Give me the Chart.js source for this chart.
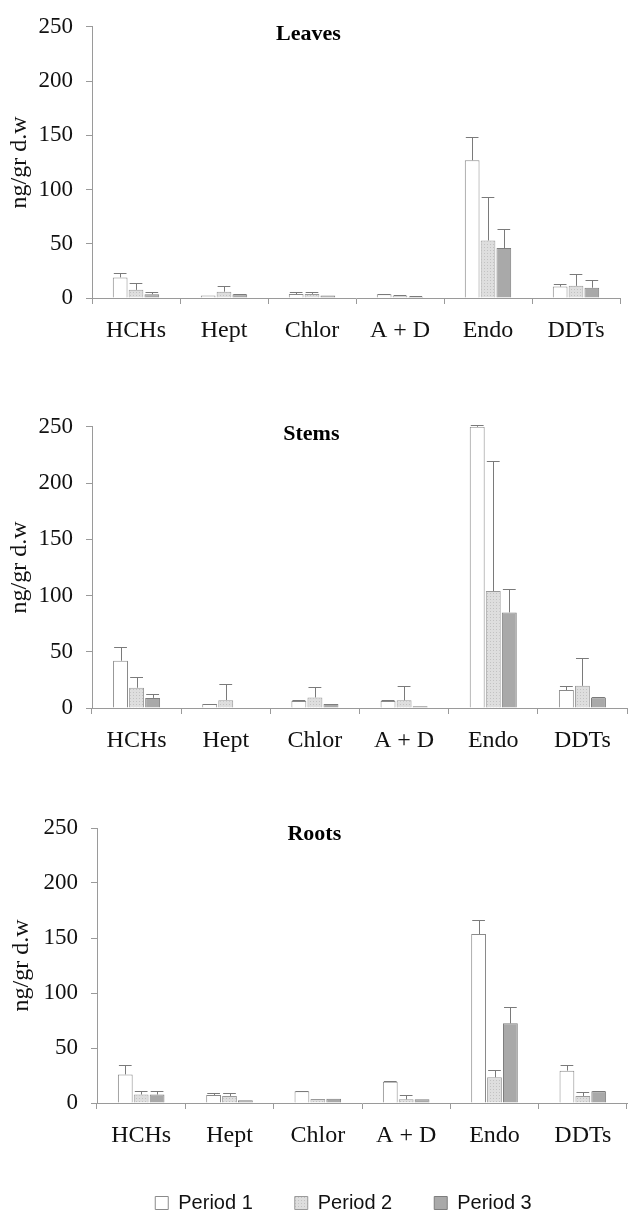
<!DOCTYPE html>
<html><head><meta charset="utf-8">
<script src="https://cdn.jsdelivr.net/npm/chart.js@4.4.1/dist/chart.umd.min.js"></script>
<style>
html,body{margin:0;padding:0;background:#fff;overflow:hidden;width:631px;height:1216px;}
.panel{position:absolute;left:0;width:631px;}
</style></head><body>
<div class="panel" style="top:0;height:345px"><canvas id="c1"></canvas></div>
<div class="panel" style="top:400px;height:355px"><canvas id="c2"></canvas></div>
<div class="panel" style="top:800px;height:423px"><canvas id="c3"></canvas></div>
<script>
const categories = ['HCHs', 'Hept', 'Chlor', 'A + D', 'Endo', 'DDTs'];
const seriesNames = ['Period 1', 'Period 2', 'Period 3'];
const yTicks = [0, 50, 100, 150, 200, 250];
const yTitle = 'ng/gr d.w';
const panelNames = ['Leaves', 'Stems', 'Roots'];

// Leaves
const leavesP1 = [19, 2.4, 3.6, 3.4, 127, 10.5];
const leavesP1Err = [4, 0, 2.2, 0.3, 21, 2.5];
const leavesP2 = [7.5, 5.8, 3.8, 2.1, 53, 11.2];
const leavesP2Err = [6.5, 5, 2, 0.4, 40, 11];
const leavesP3 = [3.5, 3.5, 2.3, 1, 46, 9.5];
const leavesP3Err = [2.3, 0.3, 0, 1, 18, 7];

// Stems
const stemsP1 = [42, 3.5, 6.2, 6.2, 250, 16];
const stemsP1Err = [12, 0.3, 0.8, 0.8, 2, 3.5];
const stemsP2 = [18, 7, 9.4, 6.8, 104, 19.7];
const stemsP2Err = [10, 14, 9, 12.6, 116, 25];
const stemsP3 = [9, 0, 3.5, 1.5, 85, 9.4];
const stemsP3Err = [3.3, 0, 0, 0, 21, 0.5];

// Roots
const rootsP1 = [26, 7.3, 10.6, 19.4, 153.6, 29.4];
const rootsP1Err = [9, 2, 0.4, 0.5, 13, 5.6];
const rootsP2 = [7.7, 6.4, 3.6, 3.3, 23.4, 6.4];
const rootsP2Err = [2.8, 3, 0, 3.7, 7, 3.3];
const rootsP3 = [7.7, 2.4, 3.8, 3.5, 72.4, 10.6];
const rootsP3Err = [2.8, 0, 0, 0, 15, 0.5];

function makeDots() {
  const c = document.createElement('canvas');
  c.width = 3; c.height = 3;
  const g = c.getContext('2d');
  g.fillStyle = '#dedede'; g.fillRect(0, 0, 3, 3);
  g.fillStyle = '#c2c2c2'; g.fillRect(1, 1, 1, 1);
  return g.createPattern(c, 'repeat');
}
const dotPattern = makeDots();

const fills = ['#ffffff', dotPattern, '#a9a9a9'];
const borders = ['#8a8a8a', '#9a9a9a', '#7e7e7e'];

const errorBars = {
  id: 'errorBars',
  afterDatasetsDraw(chart) {
    const ctx = chart.ctx, ys = chart.scales.y;
    chart.data.datasets.forEach((ds, i) => {
      const meta = chart.getDatasetMeta(i);
      meta.data.forEach((bar, j) => {
        const v = ds.data[j], e = ds.errors[j];
        if (!e || !v) return;
        const yT = Math.round(ys.getPixelForValue(v + e)) + 0.5;
        const xc = Math.round(bar.x) + 0.5;
        const half = bar.width * 0.43;
        ctx.save();
        ctx.strokeStyle = '#7a7a7a';
        ctx.lineWidth = 1;
        ctx.beginPath();
        ctx.moveTo(xc, bar.y);
        ctx.lineTo(xc, yT);
        ctx.moveTo(bar.x - half, yT);
        ctx.lineTo(bar.x + half, yT);
        ctx.stroke();
        ctx.restore();
      });
    });
  }
};

const panelTitle = {
  id: 'panelTitle',
  afterLayout(chart) {
    // let the y-axis box reach the canvas edge so its labels are not clipped
    chart.scales.y.left = 0;
  },
  afterDraw(chart, args, opts) {
    const ctx = chart.ctx, a = chart.chartArea;
    ctx.save();
    ctx.font = 'bold 22px "Liberation Serif"';
    ctx.fillStyle = '#000';
    ctx.textAlign = 'center';
    ctx.textBaseline = 'middle';
    ctx.fillText(opts.text, a.left + a.width * opts.xFrac, a.top + opts.dy);
    ctx.restore();
  }
};

function makeChart(id, name, series, errs, cfg) {
  const datasets = series.map((d, i) => ({
    label: seriesNames[i],
    data: d,
    errors: errs[i],
    backgroundColor: fills[i],
    borderColor: borders[i],
    borderWidth: 1,
    categoryPercentage: 0.54,
    barPercentage: 0.93
  }));
  return new Chart(document.getElementById(id), {
    type: 'bar',
    data: { labels: categories, datasets },
    plugins: [errorBars, panelTitle],
    options: {
      responsive: true,
      maintainAspectRatio: false,
      animation: false,
      devicePixelRatio: 1,
      layout: { padding: cfg.padding },
      plugins: {
        tooltip: { enabled: false },
        panelTitle: { text: name, xFrac: 0.41, dy: cfg.titleDy },
        legend: {
          display: !!cfg.legend,
          position: 'bottom',
          labels: {
            boxWidth: 13, boxHeight: 13, padding: 42,
            color: '#111',
            font: { family: 'Liberation Sans', size: 20 }
          }
        }
      },
      scales: {
        x: {
          grid: { display: true, drawOnChartArea: false, drawTicks: true, tickLength: 6, color: '#9a9a9a', offset: true },
          border: { display: true, color: '#9a9a9a' },
          ticks: { font: { family: 'Liberation Serif', size: 24 }, color: '#111', padding: 12, maxRotation: 0, autoSkip: false },
          afterFit(s) { s.height = cfg.xh; }
        },
        y: {
          min: yTicks[0], max: yTicks[yTicks.length - 1],
          ticks: { stepSize: yTicks[1] - yTicks[0], font: { family: 'Liberation Serif', size: 23 }, color: '#111', padding: 13 },
          grid: { drawOnChartArea: false, tickLength: 6, color: '#9a9a9a' },
          border: { display: true, color: '#9a9a9a' },
          title: { display: true, text: yTitle, color: '#111', font: { family: 'Liberation Serif', size: 24 }, padding: { top: cfg.titlePad, bottom: 0 } },
          afterFit(s) { s.width = cfg.yw; }
        }
      }
    }
  });
}

makeChart('c1', panelNames[0], [leavesP1, leavesP2, leavesP3], [leavesP1Err, leavesP2Err, leavesP3Err],
  { padding: { top: 24, left: 0, right: 11, bottom: 0 }, xh: 47, yw: 92, titlePad: 5, titleDy: 8 });
makeChart('c2', panelNames[1], [stemsP1, stemsP2, stemsP3], [stemsP1Err, stemsP2Err, stemsP3Err],
  { padding: { top: 25, left: 0, right: 4, bottom: 0 }, xh: 47, yw: 92, titlePad: 5, titleDy: 8 });
makeChart('c3', panelNames[2], [rootsP1, rootsP2, rootsP3], [rootsP1Err, rootsP2Err, rootsP3Err],
  { padding: { top: 28, left: 60, right: 4, bottom: 0 }, xh: 48, yw: 37, titlePad: 7, titleDy: 6, legend: true });
</script>
</body></html>
